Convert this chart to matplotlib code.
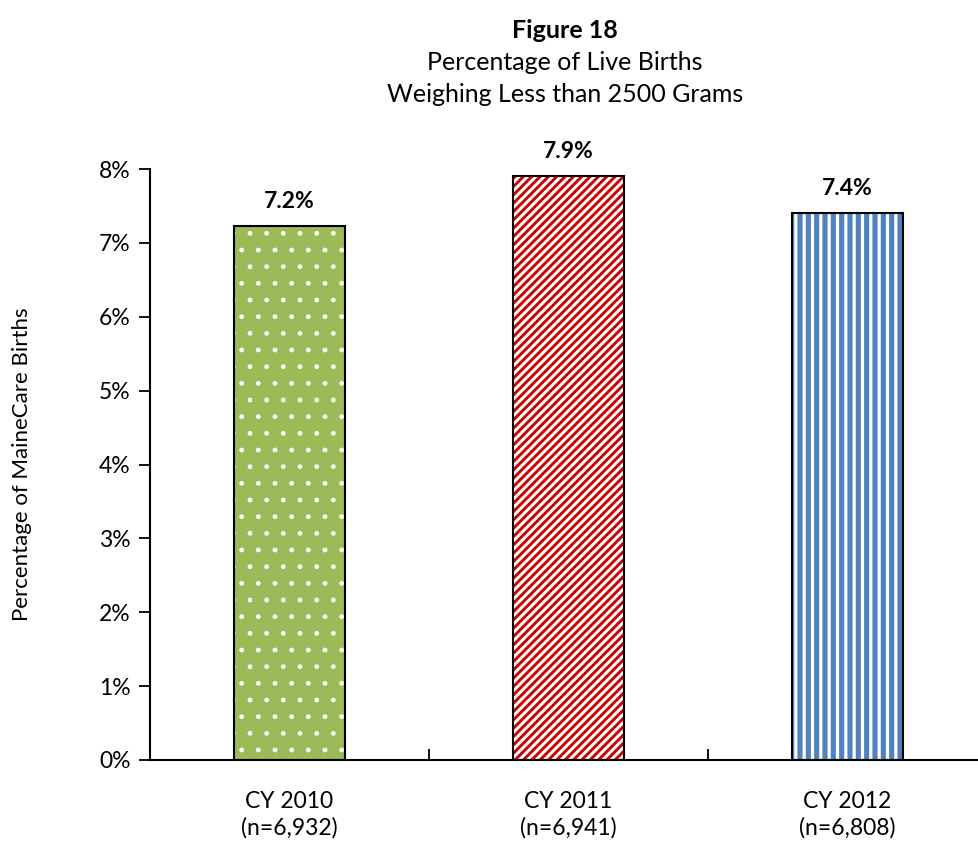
import matplotlib
matplotlib.use("Agg")
import matplotlib.pyplot as plt
import numpy as np

# data
categories = ["CY 2010\n(n=6,932)", "CY 2011\n(n=6,941)", "CY 2012\n(n=6,808)"]
values = [7.23, 7.9, 7.4]
labels = ["7.2%", "7.9%", "7.4%"]
yticks = [0, 1, 2, 3, 4, 5, 6, 7, 8]

plt.rcParams['font.family'] = ['Lato', 'DejaVu Sans']

fig = plt.figure(figsize=(9.79, 8.42), dpi=100)
ax = fig.add_axes([150/979, 1-760/842, 837/979, (760-169)/842])

x = np.arange(len(categories))
w = 0.40

# bar 1: green with white dots
with plt.rc_context({'hatch.linewidth': 1.0}):
    ax.bar(x[0], values[0], w, color="#9BBB59", edgecolor="white", hatch=".", linewidth=0)
# bar 2: red diagonal stripes on white
with plt.rc_context({'hatch.linewidth': 2.1}):
    ax.bar(x[1], values[1], w, color="white", edgecolor="#CC0000", hatch="////", linewidth=0)
# bar 3: blue vertical stripes
with plt.rc_context({'hatch.linewidth': 2.3}):
    ax.bar(x[2], values[2], w, color="#4F81BD", edgecolor="white", hatch="||", linewidth=0)

# outlines
ax.bar(x, values, w, fill=False, edgecolor="black", linewidth=1.5)

for xi, v, lab in zip(x, values, labels):
    ax.annotate(lab, (xi, v), xytext=(0, 10), textcoords="offset points",
                ha="center", va="bottom", fontsize=16.5, fontweight="bold")

ax.set_xlim(-0.5, 2.5)
ax.set_ylim(0, 8)
ax.set_yticks(yticks)
ax.set_yticklabels([f"{t}%" for t in yticks], fontsize=16.5)
ax.set_xticks(x)
ax.set_xticklabels(categories, fontsize=16.5, linespacing=1.3)
ax.tick_params(axis="x", length=0, pad=22)
ax.set_xticks([0.5, 1.5], minor=True)
ax.tick_params(axis="x", which="minor", direction="in", length=8, width=1.3)
ax.tick_params(axis="y", direction="out", length=8, width=1.3, pad=6)

ax.spines["top"].set_visible(False)
ax.spines["right"].set_visible(False)
ax.spines["left"].set_linewidth(1.5)
ax.spines["bottom"].set_linewidth(1.5)

ax.set_ylabel("Percentage of MaineCare Births", fontsize=16, labelpad=48)

fig.text(565/979, 1-30/842, "Figure 18", ha="center", va="center", fontsize=18, fontweight="bold")
fig.text(565/979, 1-62/842, "Percentage of Live Births", ha="center", va="center", fontsize=18)
fig.text(565/979, 1-95/842, "Weighing Less than 2500 Grams", ha="center", va="center", fontsize=18)

fig.savefig("out.png", dpi=100)
